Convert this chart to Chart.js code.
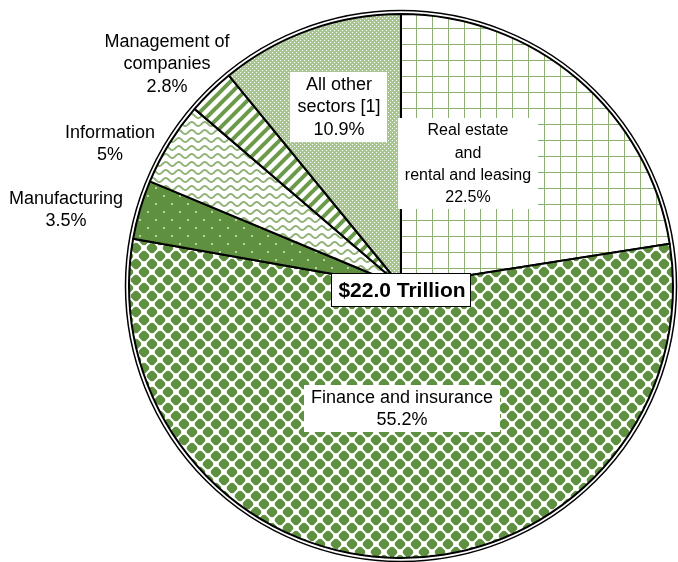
<!DOCTYPE html>
<html><head><meta charset="utf-8">
<script src="https://cdn.jsdelivr.net/npm/chart.js@4.4.1/dist/chart.umd.min.js"></script>
<style>html,body{margin:0;padding:0;background:#fff;}canvas{display:block;}</style>
</head><body>
<canvas id="c" width="678" height="562"></canvas>
<script>
// ---- data ----
const categories = ["Real estate and rental and leasing", "Finance and insurance", "Manufacturing", "Information", "Management of companies", "All other sectors [1]"];
const shares = [22.5, 55.2, 3.5, 5, 2.8, 10.9];
const labelLines = [["Real estate", "and", "rental and leasing"], ["Finance and insurance"], ["Manufacturing"], ["Information"], ["Management of", "companies"], ["All other", "sectors [1]"]];
const totalLabel = "$22.0 Trillion";

// ---- styles ----
const GREEN = '#5f9040';
const FONT = '"Liberation Sans", Arial, sans-serif';
const canvas = document.getElementById('c');
const ctx0 = canvas.getContext('2d');
function makePattern(w, h, draw) {
  const c = document.createElement('canvas'); c.width = w; c.height = h;
  const g = c.getContext('2d'); draw(g, w, h);
  return ctx0.createPattern(c, 'repeat');
}
const pGrid = makePattern(16, 16, g => {
  g.fillStyle = '#fff'; g.fillRect(0, 0, 16, 16);
  g.fillStyle = '#8db172'; g.fillRect(0, 0, 1, 16); g.fillRect(0, 12, 16, 1);
});
const pDiamond = makePattern(16, 16, g => {
  g.fillStyle = '#fff'; g.fillRect(0, 0, 16, 16);
  g.fillStyle = GREEN;
  [[8, 8], [0, 0], [16, 0], [0, 16], [16, 16]].forEach(([cx, cy]) => {
    const h = 6.6;
    g.save();
    g.beginPath(); g.arc(cx, cy, 5.3, 0, Math.PI * 2); g.clip();
    g.beginPath(); g.moveTo(cx, cy - h); g.lineTo(cx + h, cy); g.lineTo(cx, cy + h); g.lineTo(cx - h, cy); g.closePath();
    g.fill();
    g.restore();
  });
});
const pDots = makePattern(16, 16, g => {
  g.fillStyle = GREEN; g.fillRect(0, 0, 16, 16);
  g.fillStyle = '#b9d2a6'; g.fillRect(3, 3, 2, 2); g.fillRect(11, 11, 2, 2);
});
const pWave = makePattern(13, 8, g => {
  g.fillStyle = '#fff'; g.fillRect(0, 0, 13, 8);
  g.strokeStyle = '#8fb376'; g.lineWidth = 1.9;
  for (const oy of [-8, 0, 8]) {
    g.beginPath();
    for (let x = -1; x <= 14; x += 0.5) {
      const y = oy + 4 + 2 * Math.sin(2 * Math.PI * x / 13);
      if (x === -1) g.moveTo(x, y); else g.lineTo(x, y);
    }
    g.stroke();
  }
});
const pStripe = makePattern(12, 12, g => {
  g.fillStyle = '#fff'; g.fillRect(0, 0, 12, 12);
  g.strokeStyle = '#6b9a4b'; g.lineWidth = 4;
  for (const s of [0, 12, 24]) {
    g.beginPath(); g.moveTo(s + 3, -3); g.lineTo(-3, s + 3); g.stroke();
  }
});
const pFine = makePattern(4, 4, g => {
  g.fillStyle = '#a9c591'; g.fillRect(0, 0, 4, 4);
  g.fillStyle = '#ffffff'; g.fillRect(0, 0, 1, 1); g.fillRect(2, 2, 1, 1);
});
const fills = [pGrid, pDiamond, pDots, pWave, pStripe, pFine];

// label layout: [centerX, firstLineCenterY, boxed, fontSize, lineHeight]
const labelPos = [[468, 130, true, 16, 22.3], [402, 397, true, 18, 22.5], [66, 198, false, 18, 22.5], [110, 132, false, 18, 22.5], [167, 41, false, 18, 22.5], [339, 84, true, 18, 22.5]];

const overlay = {
  id: 'overlay',
  afterDatasetsDraw(chart) {
    const ctx = chart.ctx;
    const meta = chart.getDatasetMeta(0);
    const a = meta.data[0];
    ctx.save();
    ctx.strokeStyle = '#000'; ctx.lineWidth = 1.5;
    ctx.beginPath(); ctx.arc(a.x, a.y, a.outerRadius + 3.5, 0, Math.PI * 2); ctx.stroke();

    ctx.textAlign = 'center'; ctx.textBaseline = 'middle';
    shares.forEach((v, i) => {
      const lines = labelLines[i].concat([String(v) + '%']);
      const [cx, cy, boxed, fs, lh] = labelPos[i];
      ctx.font = fs + 'px ' + FONT;
      if (boxed) {
        let w = 0; lines.forEach(l => { w = Math.max(w, ctx.measureText(l).width); });
        const top = cy - lh / 2 - 1, hgt = lines.length * lh + 2;
        ctx.fillStyle = '#fff';
        ctx.fillRect(Math.round(cx - w / 2 - 7), Math.round(top), Math.round(w + 14), Math.round(hgt));
      }
      ctx.fillStyle = '#000';
      lines.forEach((l, k) => ctx.fillText(l, cx, cy + k * lh + 1));
    });

    // total label
    ctx.font = 'bold 21px ' + FONT;
    const tw = ctx.measureText(totalLabel).width;
    const bx = Math.round(a.x - tw / 2 - 6) + 0.5, by = 273.5, bw = Math.round(tw + 12), bh = 33;
    ctx.fillStyle = '#fff'; ctx.fillRect(bx, by, bw, bh);
    ctx.strokeStyle = '#000'; ctx.lineWidth = 1; ctx.strokeRect(bx, by, bw, bh);
    ctx.fillStyle = '#000'; ctx.fillText(totalLabel, a.x + 1, 291);
    ctx.restore();
  }
};

new Chart(canvas, {
  type: 'pie',
  data: {
    labels: categories,
    datasets: [{
      data: shares,
      backgroundColor: fills,
      borderColor: '#000',
      borderWidth: 2,
      radius: 272
    }]
  },
  options: {
    responsive: false,
    devicePixelRatio: 1,
    animation: false,
    layout: { padding: { left: 124, right: 0, top: 10, bottom: 0 } },
    plugins: { legend: { display: false }, tooltip: { enabled: false } }
  },
  plugins: [overlay]
});
</script>
</body></html>
